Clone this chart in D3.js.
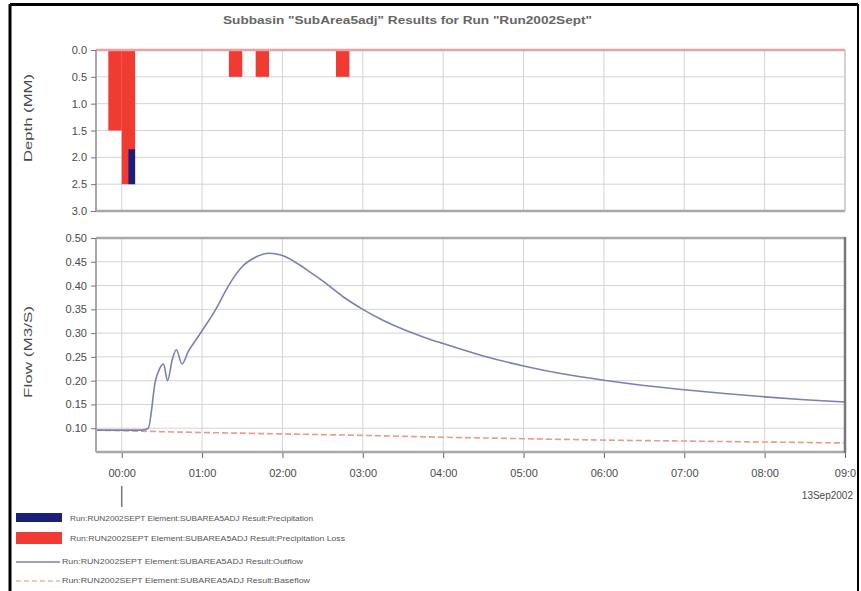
<!DOCTYPE html>
<html><head><meta charset="utf-8">
<script src="https://cdn.jsdelivr.net/npm/d3@7/dist/d3.min.js"></script>
<style>
html,body{margin:0;padding:0;background:#fff;}
svg{display:block;font-family:"Liberation Sans",Arial,sans-serif;}
</style></head>
<body>
<svg id="chart" width="861" height="591"></svg>
<script>
// ---- data ----
const titleText = 'Subbasin "SubArea5adj" Results for Run "Run2002Sept"';
const depthTicks = [0.0, 0.5, 1.0, 1.5, 2.0, 2.5, 3.0];
const flowTicks = [0.10, 0.15, 0.20, 0.25, 0.30, 0.35, 0.40, 0.45, 0.50];
const hourTicks = [0,1,2,3,4,5,6,7,8,9];
const hourLabels = ["00:00","01:00","02:00","03:00","04:00","05:00","06:00","07:00","08:00","09:0"];
const dateLabel = "13Sep2002";

// precipitation intervals: start minute (10-min steps)
const precipStart = [-10, 0, 80, 100, 160];
const precipLoss  = [1.5, 2.5, 0.5, 0.5, 0.5];   // red bars (depth, mm)
const precipExcessTop = [0, 1.85, 0, 0, 0];      // excess drawn from this depth ...
const precipExcessBot = [0, 2.5, 0, 0, 0];       // ... down to this depth

// outflow (hours, m3/s)
const flowHours = [-0.32,0.25,0.33,0.42,0.47,0.52,0.57,0.63,0.68,0.75,0.83,0.92,1.0,1.17,1.33,1.5,1.67,1.83,2.0,2.17,2.33,2.5,2.75,3.0,3.25,3.5,3.75,4.0,4.5,5.0,5.5,6.0,6.5,7.0,7.5,8.0,8.5,9.0];
const flowVals  = [0.096,0.096,0.100,0.200,0.225,0.235,0.200,0.245,0.265,0.235,0.262,0.285,0.305,0.350,0.400,0.440,0.460,0.468,0.463,0.448,0.430,0.410,0.377,0.350,0.327,0.308,0.292,0.278,0.252,0.231,0.214,0.201,0.190,0.181,0.173,0.166,0.160,0.155];
// baseflow
const baseHours = [-0.32,0.42,1.0,2.0,3.0,4.0,5.0,6.0,7.0,8.0,9.0];
const baseVals  = [0.096,0.093,0.091,0.088,0.085,0.081,0.078,0.075,0.073,0.071,0.069];

const legendItems = [
  "Run:RUN2002SEPT Element:SUBAREA5ADJ Result:Precipitation",
  "Run:RUN2002SEPT Element:SUBAREA5ADJ Result:Precipitation Loss",
  "Run:RUN2002SEPT Element:SUBAREA5ADJ Result:Outflow",
  "Run:RUN2002SEPT Element:SUBAREA5ADJ Result:Baseflow"
];

// ---- drawing ----
const svg = d3.select("#chart");
const x = d3.scaleLinear().domain([-0.32, 9]).range([96, 845]);
const yD = d3.scaleLinear().domain([0, 3]).range([50, 211]);
const yF = d3.scaleLinear().domain([0.05, 0.5]).range([452, 238]);
const gridC = "#d4d4d4", axisC = "#a8a8a8", txtC = "#4a4a4a";

// outer frame
svg.append("line").attr("x1",10).attr("x2",858).attr("y1",4.5).attr("y2",4.5).attr("stroke","#000").attr("stroke-width",3);
svg.append("line").attr("x1",10).attr("x2",10).attr("y1",4).attr("y2",591).attr("stroke","#000").attr("stroke-width",3);
svg.append("line").attr("x1",858).attr("x2",858).attr("y1",4).attr("y2",591).attr("stroke","#000").attr("stroke-width",2);

// title
svg.append("text").attr("x",223).attr("y",24).attr("textLength",369).attr("lengthAdjust","spacingAndGlyphs")
  .attr("font-size",11).attr("font-weight","bold").attr("fill","#666").text(titleText);

// ---- top panel ----
const topG = svg.append("g");
topG.selectAll(".vg").data(hourTicks).enter().append("line")
  .attr("x1",d=>x(d)).attr("x2",d=>x(d)).attr("y1",yD(0)).attr("y2",yD(3)).attr("stroke",gridC);
topG.selectAll(".hg").data(depthTicks).enter().append("line")
  .attr("x1",x(-0.32)).attr("x2",x(9)).attr("y1",d=>yD(d)).attr("y2",d=>yD(d)).attr("stroke",gridC);

// bars
const mins = m => m/60;
topG.selectAll(".loss").data(precipStart).enter().append("rect")
  .attr("x",(d)=>x(mins(d))).attr("width",d=>x(mins(d+10))-x(mins(d)))
  .attr("y",yD(0)).attr("height",(d,i)=>yD(precipLoss[i])-yD(0))
  .attr("fill","#f03a32");
const excIdx = precipStart.map((d,i)=>i).filter(i=>precipExcessBot[i]>0);
topG.selectAll(".exc").data(excIdx).enter().append("rect")
  .attr("x",i=>x(mins(precipStart[i]+5))).attr("width",i=>x(mins(precipStart[i]+10))-x(mins(precipStart[i]+5)))
  .attr("y",i=>yD(precipExcessTop[i]))
  .attr("height",i=>yD(precipExcessBot[i])-yD(precipExcessTop[i]))
  .attr("fill","#1c1f78");
// zero line
topG.append("line").attr("x1",x(-0.32)).attr("x2",x(9)).attr("y1",yD(0)).attr("y2",yD(0)).attr("stroke","#eca0a0").attr("stroke-width",2.5);
// axes lines
topG.append("line").attr("x1",x(-0.32)).attr("x2",x(-0.32)).attr("y1",yD(0)).attr("y2",yD(3)+1).attr("stroke",axisC).attr("stroke-width",2);
topG.append("line").attr("x1",x(-0.32)).attr("x2",x(9)).attr("y1",yD(3)).attr("y2",yD(3)).attr("stroke",axisC).attr("stroke-width",2.5);
topG.append("line").attr("x1",x(9)).attr("x2",x(9)).attr("y1",yD(0)).attr("y2",yD(3)).attr("stroke","#bbb").attr("stroke-width",1);
const yDa = d3.axisLeft(yD).tickValues(depthTicks).tickFormat(d3.format(".1f")).tickSize(5).tickPadding(4);
const gDa = topG.append("g").attr("transform",`translate(${x(-0.32)},0)`).call(yDa);
gDa.select(".domain").remove();
gDa.selectAll("line").attr("stroke","#777");
gDa.selectAll("text").attr("fill",txtC).attr("font-size",11).attr("font-family","Liberation Sans, Arial");
svg.append("text").attr("transform","translate(32,118) rotate(-90)").attr("text-anchor","middle")
  .attr("font-size",11).attr("fill",txtC).attr("textLength",88).attr("lengthAdjust","spacingAndGlyphs").text("Depth (MM)");

// ---- bottom panel ----
const botG = svg.append("g");
botG.selectAll(".vg").data(hourTicks).enter().append("line")
  .attr("x1",d=>x(d)).attr("x2",d=>x(d)).attr("y1",yF(0.5)).attr("y2",yF(0.05)).attr("stroke",gridC);
botG.selectAll(".hg").data(flowTicks).enter().append("line")
  .attr("x1",x(-0.32)).attr("x2",x(9)).attr("y1",d=>yF(d)).attr("y2",d=>yF(d)).attr("stroke",gridC);

const line = d3.line().x(d=>x(d[0])).y(d=>yF(d[1]));
botG.append("path").datum(baseHours.map((h,i)=>[h,baseVals[i]])).attr("d",line)
  .attr("fill","none").attr("stroke","#e79a86").attr("stroke-width",1.6).attr("stroke-dasharray","6,3");
botG.append("path").datum(flowHours.map((h,i)=>[h,flowVals[i]])).attr("d",line.curve(d3.curveMonotoneX))
  .attr("fill","none").attr("stroke","#7c7fb6").attr("stroke-width",1.6);

// frame
botG.append("line").attr("x1",x(-0.32)).attr("x2",x(9)).attr("y1",yF(0.5)).attr("y2",yF(0.5)).attr("stroke",axisC).attr("stroke-width",2.5);
botG.append("line").attr("x1",x(-0.32)).attr("x2",x(9)+1).attr("y1",yF(0.05)).attr("y2",yF(0.05)).attr("stroke",axisC).attr("stroke-width",2.5);
botG.append("line").attr("x1",x(-0.32)).attr("x2",x(-0.32)).attr("y1",yF(0.5)).attr("y2",yF(0.05)).attr("stroke",axisC).attr("stroke-width",2);
botG.append("line").attr("x1",x(9)).attr("x2",x(9)).attr("y1",yF(0.5)-1).attr("y2",yF(0.05)+1).attr("stroke","#777").attr("stroke-width",2.5);
const yFa = d3.axisLeft(yF).tickValues(flowTicks).tickFormat(d3.format(".2f")).tickSize(5).tickPadding(4);
const gFa = botG.append("g").attr("transform",`translate(${x(-0.32)},0)`).call(yFa);
gFa.select(".domain").remove();
gFa.selectAll("line").attr("stroke","#777");
gFa.selectAll("text").attr("fill",txtC).attr("font-size",11).attr("font-family","Liberation Sans, Arial");
svg.append("text").attr("transform","translate(32,352) rotate(-90)").attr("text-anchor","middle")
  .attr("font-size",11).attr("fill",txtC).attr("textLength",92).attr("lengthAdjust","spacingAndGlyphs").text("Flow (M3/S)");

// x axis
const xa = d3.axisBottom(x).tickValues(hourTicks).tickFormat((d,i)=>hourLabels[i]).tickSize(5).tickPadding(11);
const gx = botG.append("g").attr("transform",`translate(0,${yF(0.05)+1})`).call(xa);
gx.select(".domain").remove();
gx.selectAll("line").attr("stroke","#666");
gx.selectAll("text").attr("fill",txtC).attr("font-size",11).attr("font-family","Liberation Sans, Arial");
svg.append("line").attr("x1",x(0)).attr("x2",x(0)).attr("y1",486).attr("y2",507).attr("stroke","#777").attr("stroke-width",1.5);
svg.append("text").attr("x",853).attr("y",499).attr("text-anchor","end").attr("font-size",10).attr("fill",txtC).text(dateLabel);

// ---- legend ----
const lg = svg.append("g");
const legY = [518, 538, 561, 580];
const legTX = [70, 70, 62, 62];
const legTL = [243, 275, 241, 248];
lg.append("rect").attr("x",16).attr("y",legY[0]-5).attr("width",46).attr("height",9).attr("fill","#1c1f78");
lg.append("rect").attr("x",16).attr("y",legY[1]-6).attr("width",46).attr("height",12).attr("fill","#f03a32");
lg.append("line").attr("x1",16).attr("x2",60).attr("y1",legY[2]+1).attr("y2",legY[2]+1).attr("stroke","#7c7fb6").attr("stroke-width",1.3);
lg.append("line").attr("x1",16).attr("x2",60).attr("y1",legY[3]+1).attr("y2",legY[3]+1).attr("stroke","#e0bf9a").attr("stroke-width",1.3).attr("stroke-dasharray","5,3");
lg.selectAll(".lt").data(legendItems).enter().append("text")
  .attr("x",(d,i)=>legTX[i]).attr("y",(d,i)=>legY[i]+2.5)
  .attr("textLength",(d,i)=>legTL[i]).attr("lengthAdjust","spacingAndGlyphs")
  .attr("font-size",7).attr("fill","#555").text(d=>d);
</script>
</body></html>
